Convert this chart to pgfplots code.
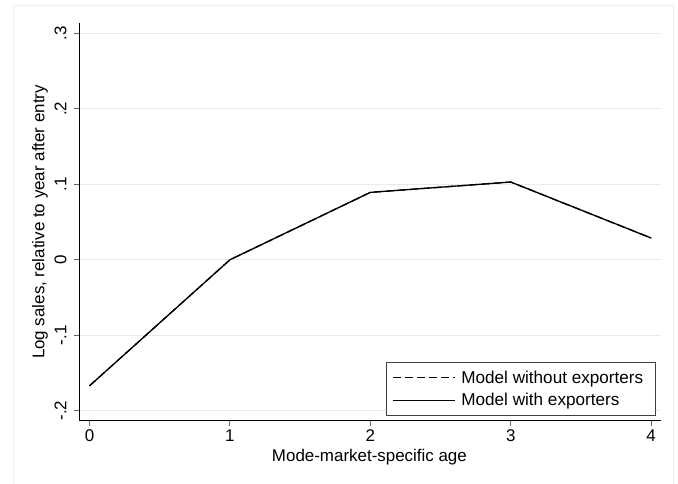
\documentclass[border=0pt]{standalone}
\usepackage{pgfplots}
\pgfplotsset{compat=1.18}
\usepackage{fontspec}
\setmainfont{Liberation Sans}
\definecolor{gridc}{RGB}{230,236,238}
\definecolor{framec}{RGB}{234,238,238}
\begin{document}
\begin{tikzpicture}[x=1bp,y=1bp]
\path[use as bounding box] (0,0) rectangle (678,484);
\draw[framec, line width=1bp] (13.5,-5) -- (13.5,478.5) -- (673.5,478.5) -- (673.5,-5);
\begin{axis}[
  at={(79bp,63bp)}, anchor=south west,
  scale only axis, width=582bp, height=398bp,
  xmin=-0.075, xmax=4.07, ymin=-0.2136, ymax=0.3137,
  axis x line*=bottom, axis y line*=left,
  axis line style={black, line width=1bp, -},
  xtick={0,1,2,3,4},
  ytick={-0.2,-0.1,0,0.1,0.2,0.3},
  yticklabels={-.2,-.1,0,.1,.2,.3},
  tick align=outside, major tick length=5bp,
  tick style={black!60, line width=1bp},
  ymajorgrids, major grid style={gridc, line width=1.3bp},
  /pgf/number format/assume math mode=true,
  tick label style={font=\fontsize{17}{20}\selectfont},
  yticklabel style={rotate=90, anchor=south},
  yticklabel shift=4bp,
  label style={font=\fontsize{17}{20}\selectfont},
  xlabel={Mode-market-specific age},
  ylabel={Log sales, relative to year after entry},
  xlabel style={at={(axis description cs:0.499,-0.0905)}, anchor=center},
  ylabel style={at={(axis description cs:-0.067,0.5)}, anchor=center},
  legend style={at={(0.991,0.0126)}, anchor=south east, draw=black!75, line width=1bp,
    font=\fontsize{17.2}{20}\selectfont, inner xsep=6bp, inner ysep=6bp, row sep=5bp},
  legend cell align=left,
  legend image code/.code={\draw[#1, line width=1.3bp] (-2bp,0bp) -- (60bp,0bp);},
  legend style={nodes={inner xsep=6bp}},
]
\addplot[black, line width=1.3bp, dash pattern=on 8bp off 4bp] coordinates {(0,-0.167) (1,0) (2,0.0893) (3,0.103) (4,0.0288)};
\addlegendentry{Model without exporters}
\addplot[black, line width=1.3bp] coordinates {(0,-0.167) (1,0) (2,0.0893) (3,0.103) (4,0.0288)};
\addlegendentry{Model with exporters}
\end{axis}
\end{tikzpicture}
\end{document}
